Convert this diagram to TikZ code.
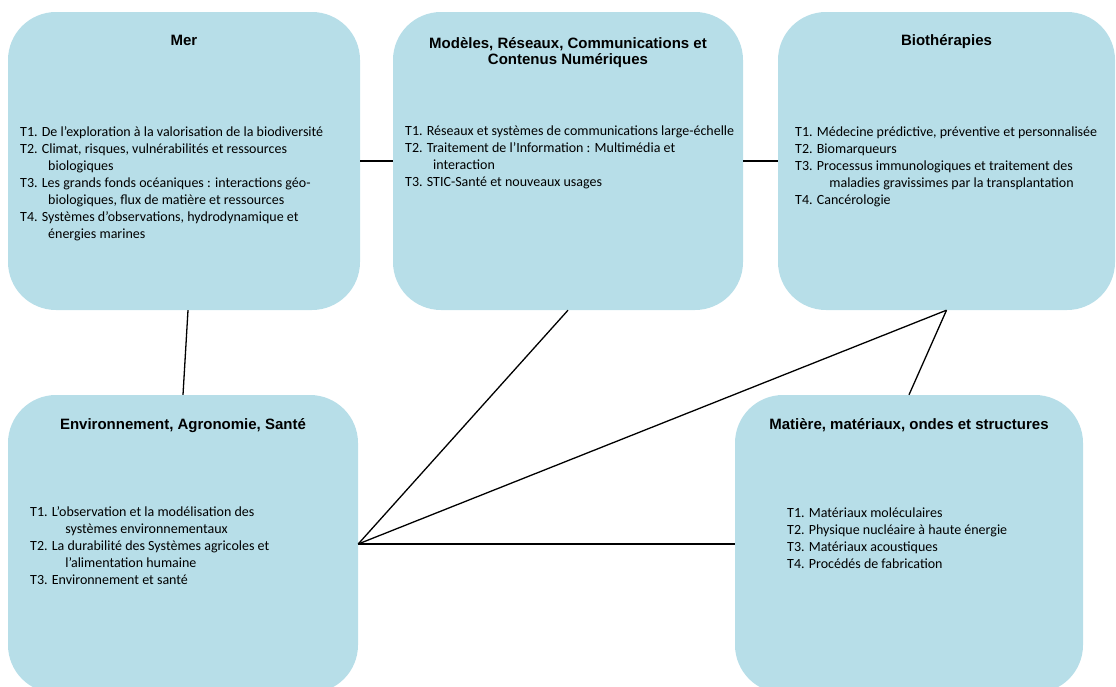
\documentclass[tikz,border=0pt]{standalone}
\usepackage{fontspec}
\setmainfont{Carlito}
\newfontfamily\titrefont{Liberation Sans}
\usetikzlibrary{positioning}

\definecolor{bleupole}{HTML}{B7DEE8}

\tikzset{
  pole/.style={rectangle, rounded corners=48pt, fill=bleupole, draw=none,
    minimum width=#1, minimum height=298pt, inner sep=0pt},
  titre/.style={font=\titrefont\bfseries\fontsize{15}{16.5}\selectfont,
    align=center, inner sep=0pt},
  liste/.style={font=\fontsize{#1}{17}\selectfont, align=left,
    inner sep=0pt, anchor=north west},
  liste/.default=14,
  lien/.style={line width=1.3pt, black}
}
\newcommand{\suite}{\hspace*{28pt}}

\begin{document}
\begin{tikzpicture}[x=1pt, y=-1pt]
  \useasboundingbox (0,0) rectangle (1116,686);

  % les poles
  \node[pole=352pt] (mer) at (184,161) {};
  \node[pole=350pt] (mod) at (568,161) {};
  \node[pole=337pt] (bio) at (946.5,161) {};
  \node[pole=350pt] (env) at (183,544) {};
  \node[pole=348pt] (mat) at (909,544) {};

  % titres
  \node[titre, below=23pt of mer.north] (titremer) {Mer};
  \node[titre, below=25pt of mod.north] (titremod)
    {Modèles, Réseaux, Communications et\\Contenus Numériques};
  \node[titre, below=22pt of bio.north] (titrebio) {Biothérapies};
  \node[titre, below=23pt of env.north] (titreenv) {Environnement, Agronomie, Santé};
  \node[titre, below=23pt of mat.north] (titremat) {Matière, matériaux, ondes et structures};

  % themes
  \node[liste] (listemer) at (20,126.5) {T1. De l'exploration à la valorisation de la biodiversité\\
    T2. Climat, risques, vulnérabilités et ressources\\
    \suite biologiques\\
    T3. Les grands fonds océaniques : interactions géo-\\
    \suite biologiques, flux de matière et ressources\\
    T4. Systèmes d'observations, hydrodynamique et\\
    \suite énergies marines};
  \node[liste] (listemod) at (405,125.5) {T1. Réseaux et systèmes de communications large-échelle\\
    T2. Traitement de l'Information : Multimédia et\\
    \suite interaction\\
    T3. STIC-Santé et nouveaux usages};
  \node[liste] (listebio) at (795,127) {T1. Médecine prédictive, préventive et personnalisée\\
    T2. Biomarqueurs\\
    T3. Processus immunologiques et traitement des\\
    \suite\hspace*{3pt} maladies gravissimes par la transplantation\\
    T4. Cancérologie};
  \node[liste] (listeenv) at (30,506.5) {T1. L'observation et la modélisation des\\
    \suite\hspace*{4pt} systèmes environnementaux\\
    T2. La durabilité des Systèmes agricoles et\\
    \suite\hspace*{4pt} l'alimentation humaine\\
    T3. Environnement et santé};
  \node[liste] (listemat) at (787,508) {T1. Matériaux moléculaires\\
    T2. Physique nucléaire à haute énergie\\
    T3. Matériaux acoustiques\\
    T4. Procédés de fabrication};

  % liens
  \draw[lien] (mer.east) -- (mod.west);
  \draw[lien] (mod.east) -- (bio.west);
  \draw[lien] ([xshift=4pt]mer.south) -- (env.north);
  \draw[lien] (mod.south) -- (env.east);
  \draw[lien] (bio.south) -- (env.east);
  \draw[lien] (bio.south) -- (mat.north);
  \draw[lien] (env.east) -- (mat.west);
\end{tikzpicture}
\end{document}
